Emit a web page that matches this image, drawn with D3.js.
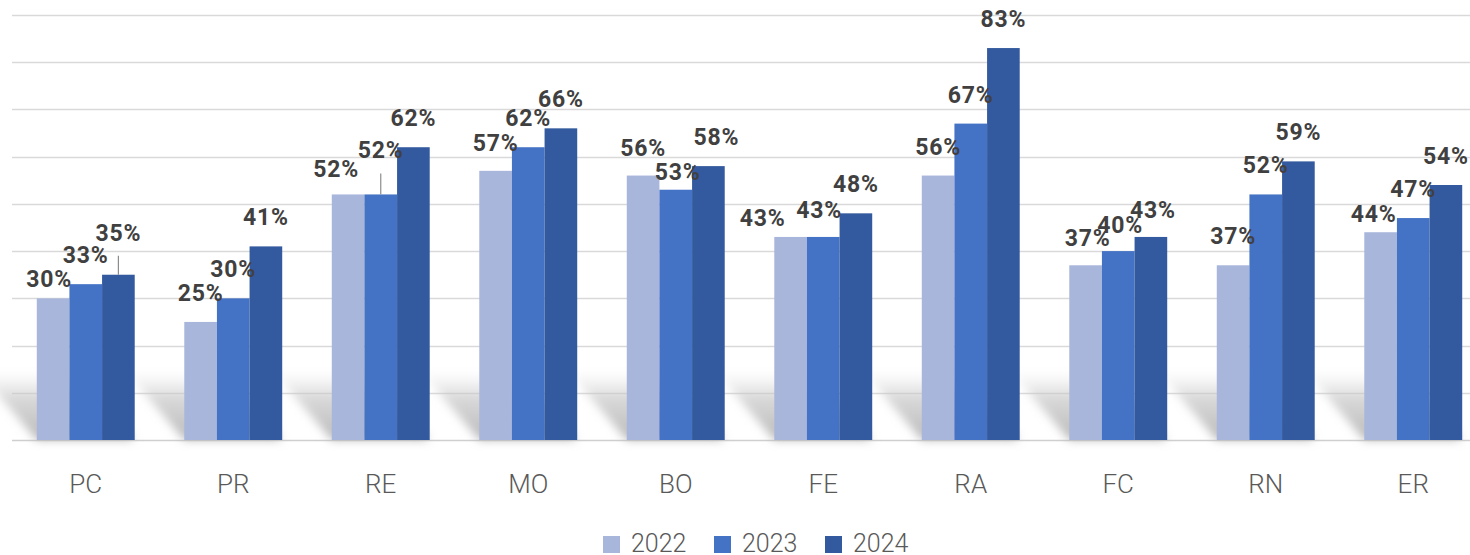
<!DOCTYPE html>
<html>
<head>
<meta charset="utf-8">
<script src="https://cdn.jsdelivr.net/npm/d3@7/dist/d3.min.js"></script>
<style>
  html, body { margin: 0; padding: 0; background: #fff; }
  svg { display: block; }
</style>
</head>
<body>
<svg id="chart" width="1470" height="555"></svg>
<script>
// ---- data ----
const categories = ["PC", "PR", "RE", "MO", "BO", "FE", "RA", "FC", "RN", "ER"];
const seriesNames = ["2022", "2023", "2024"];
const values2022 = [30, 25, 52, 57, 56, 43, 56, 37, 37, 44];
const values2023 = [33, 30, 52, 62, 53, 43, 67, 40, 52, 47];
const values2024 = [35, 41, 62, 66, 58, 48, 83, 43, 59, 54];
const gridTicks = [0, 10, 20, 30, 40, 50, 60, 70, 80, 90];

// ---- label layout tweaks (position only, not data) ----
// [dx, gap above bar top, leader]
const labelLayout = {
  "PC-2022": [-4, 11], "PC-2024": [0, 34, true],
  "RE-2022": [-12, 17], "RE-2023": [0, 36, true],
  "MO-2022": [0, 20],
  "BO-2022": [0, 20], "BO-2023": [2, 10], "BO-2024": [8, 21],
  "FE-2022": [-28, 11], "FE-2023": [-4, 19],
  "FC-2022": [2, 19], "FC-2023": [2, 18], "FC-2024": [2, 19],
  "ER-2022": [-7, 10]
};

const colors = ["#a8b6db", "#4472c4", "#335a9e"];
const seriesValues = [values2022, values2023, values2024];

const svg = d3.select("#chart");
const baseY = 440, topY = 15;

const y = d3.scaleLinear().domain([0, 90]).range([baseY, topY]);
const x0 = d3.scaleBand().domain(categories).range([12, 1487]).paddingInner(0.336).paddingOuter(0.168);
const x1 = d3.scaleBand().domain(seriesNames).range([0, x0.bandwidth()]).padding(0);

// defs: shadow gradient + blur
const defs = svg.append("defs");
const grad = defs.append("linearGradient").attr("id", "shGrad")
  .attr("x1", "0").attr("y1", "1").attr("x2", "0").attr("y2", "0");
grad.append("stop").attr("offset", "0").attr("stop-color", "#b0b0b0").attr("stop-opacity", 0.9);
grad.append("stop").attr("offset", "0.6").attr("stop-color", "#c4c4c4").attr("stop-opacity", 0.65);
grad.append("stop").attr("offset", "1").attr("stop-color", "#e0e0e0").attr("stop-opacity", 0);
defs.append("filter").attr("id", "blur").attr("x", "-30%").attr("y", "-30%").attr("width", "160%").attr("height", "160%")
  .append("feGaussianBlur").attr("stdDeviation", 5);

// gridlines
svg.append("g").selectAll("line").data(gridTicks).join("line")
  .attr("x1", 12).attr("x2", 1470)
  .attr("y1", d => Math.round(y(d)) + 0.5).attr("y2", d => Math.round(y(d)) + 0.5)
  .attr("stroke", d => d === 0 ? "#cfcfcf" : "#d9d9d9")
  .attr("stroke-width", 1.6);

// shadows
svg.append("g").attr("filter", "url(#blur)").selectAll("path").data(categories).join("path")
  .attr("d", c => {
    const l = x0(c), r = x0(c) + x0.bandwidth();
    const h = 70, s = 60;
    return `M${l},${baseY} L${r},${baseY} L${r - s},${baseY - h} L${l - s},${baseY - h} Z`;
  })
  .attr("fill", "url(#shGrad)");

// bars
const groups = svg.append("g").selectAll("g").data(categories).join("g")
  .attr("transform", c => `translate(${x0(c)},0)`);

groups.selectAll("rect").data((c, i) => seriesNames.map((s, k) => ({ c, s, k, v: seriesValues[k][i] })))
  .join("rect")
  .attr("x", d => x1(d.s))
  .attr("y", d => y(d.v))
  .attr("width", x1.bandwidth())
  .attr("height", d => baseY - y(d.v))
  .attr("fill", d => colors[d.k]);

// data labels
const labelData = [];
categories.forEach((c, i) => {
  seriesNames.forEach((s, k) => {
    const v = seriesValues[k][i];
    const lay = labelLayout[c + "-" + s] || [0, 21];
    labelData.push({ c, s, k, v, dx: lay[0], gap: lay[1], leader: !!lay[2] });
  });
});
const lbl = svg.append("g");
lbl.selectAll("line").data(labelData.filter(d => d.leader)).join("line")
  .attr("x1", d => x0(d.c) + x1(d.s) + x1.bandwidth() / 2)
  .attr("x2", d => x0(d.c) + x1(d.s) + x1.bandwidth() / 2)
  .attr("y1", d => y(d.v))
  .attr("y2", d => y(d.v) - d.gap + 15)
  .attr("stroke", "#8c8c8c").attr("stroke-width", 1.2);
lbl.selectAll("text").data(labelData).join("text")
  .attr("x", d => x0(d.c) + x1(d.s) + x1.bandwidth() / 2 + d.dx)
  .attr("y", d => y(d.v) - d.gap)
  .attr("text-anchor", "middle")
  .attr("font-family", "Roboto, 'DejaVu Sans', sans-serif")
  .attr("font-weight", 700)
  .attr("font-size", "23px")
  .attr("letter-spacing", "0.8px")
  .attr("fill", "#404040")
  .text(d => d.v + "%");

// category axis labels
svg.append("g").selectAll("text").data(categories).join("text")
  .attr("x", c => x0(c) + x0.bandwidth() / 2)
  .attr("y", 493)
  .attr("text-anchor", "middle")
  .attr("font-family", "Roboto, sans-serif")
  .attr("font-weight", 300)
  .attr("font-size", "26px")
  .attr("fill", "#595959")
  .text(c => c);

// legend
const legendX = [603, 714, 825];
const leg = svg.append("g").selectAll("g").data(seriesNames).join("g")
  .attr("transform", (s, k) => `translate(${legendX[k]},0)`);
leg.append("rect").attr("x", 0).attr("y", 536).attr("width", 17).attr("height", 17)
  .attr("fill", (s, k) => colors[k]);
leg.append("text").attr("x", 28).attr("y", 552)
  .attr("font-family", "Roboto, sans-serif")
  .attr("font-weight", 300)
  .attr("font-size", "25px")
  .attr("fill", "#595959")
  .text(s => s);
</script>
</body>
</html>
